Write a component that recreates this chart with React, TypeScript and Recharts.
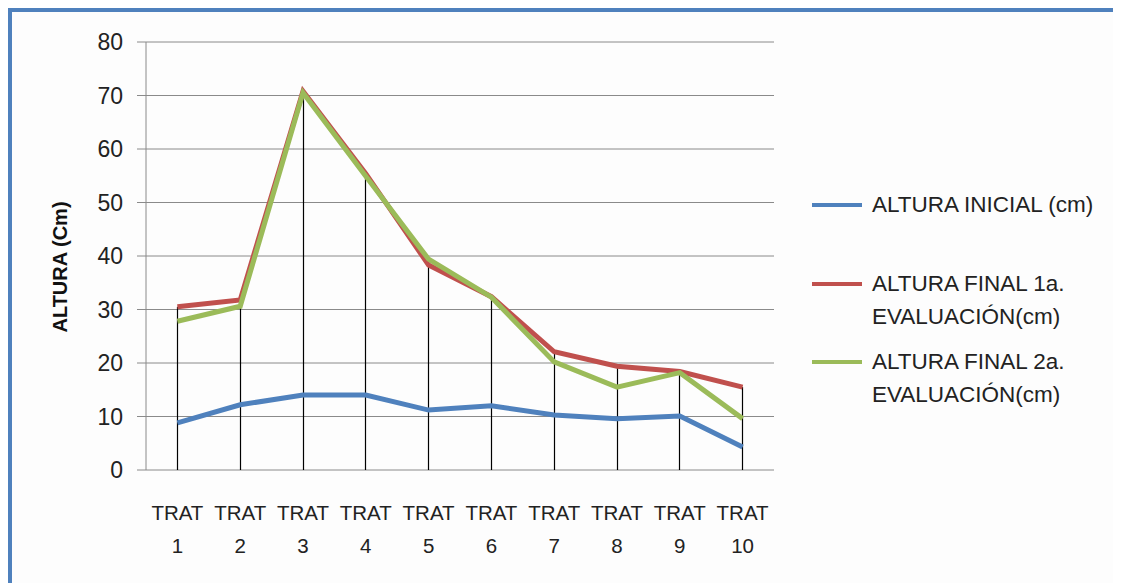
import React from "react";
import {
  ComposedChart,
  Line,
  Bar,
  XAxis,
  YAxis,
  CartesianGrid,
} from "recharts";

// Values
const categories = ["1", "2", "3", "4", "5", "6", "7", "8", "9", "10"];
const alturaInicial = [8.8, 12.2, 14.0, 14.0, 11.2, 12.0, 10.3, 9.6, 10.1, 4.3];
const alturaFinal1 = [30.5, 31.8, 70.8, 55.4, 38.3, 32.4, 22.1, 19.4, 18.4, 15.5];
const alturaFinal2 = [27.8, 30.6, 70.5, 54.9, 39.4, 32.3, 20.2, 15.5, 18.2, 9.6];
const yTicks = [0, 10, 20, 30, 40, 50, 60, 70, 80];

const FONT = "'Liberation Sans', Arial, sans-serif";

const series = [
  { key: "inicial", name: "ALTURA INICIAL (cm)", color: "#4f81bd" },
  { key: "final1", name: "ALTURA FINAL 1a.\nEVALUACIÓN(cm)", color: "#c0504d" },
  { key: "final2", name: "ALTURA FINAL 2a.\nEVALUACIÓN(cm)", color: "#9bbb59" },
];

const data = categories.map((c, i) => ({
  cat: c,
  inicial: alturaInicial[i],
  final1: alturaFinal1[i],
  final2: alturaFinal2[i],
  // drop line goes from the highest series value down to zero
  drop: Math.max(alturaInicial[i], alturaFinal1[i], alturaFinal2[i]),
}));

function XTick(props: any) {
  const { x, y, payload } = props;
  return (
    <text x={x} y={y} textAnchor="middle" fill="#222" fontSize={20.5} fontFamily={FONT}>
      <tspan x={x} dy={42}>TRAT</tspan>
      <tspan x={x} dy={33}>{payload.value}</tspan>
    </text>
  );
}

function YLabel(props: any) {
  const { viewBox } = props;
  const cx = 48;
  const cy = viewBox.y + viewBox.height / 2 + 11;
  return (
    <text
      x={cx}
      y={cy}
      transform={`rotate(-90 ${cx} ${cy})`}
      textAnchor="middle"
      dominantBaseline="central"
      fontSize={20}
      fontWeight={700}
      fontFamily={FONT}
      fill="#111"
    >
      ALTURA (Cm)
    </text>
  );
}

// thin vertical drop line drawn from the bar geometry
function DropLine(props: any) {
  const { x, y, width, height } = props;
  const cx = Math.round(x + width / 2) + 0.5;
  return (
    <line x1={cx} x2={cx} y1={y} y2={y + height} stroke="#000" strokeWidth={1.2} />
  );
}

function LegendBox() {
  return (
    <div
      style={{
        position: "absolute",
        left: 800,
        top: 176,
        fontFamily: FONT,
        fontSize: 22.5,
        color: "#222",
      }}
    >
      {series.map((s, i) => (
        <div
          key={s.key}
          style={{
            display: "flex",
            alignItems: "flex-start",
            marginBottom: i === 0 ? 46 : 12,
          }}
        >
          <div
            style={{
              width: 50,
              height: 4,
              background: s.color,
              marginTop: 15,
              marginRight: 10,
              flexShrink: 0,
            }}
          />
          <div style={{ whiteSpace: "pre", lineHeight: "33px" }}>{s.name}</div>
        </div>
      ))}
    </div>
  );
}

export default function App() {
  return (
    <div
      style={{
        position: "relative",
        width: 1113,
        height: 580,
        borderTop: "4px solid #4f81bd",
        borderLeft: "4px solid #4f81bd",
        background: "#fdfdfd",
        boxSizing: "border-box",
        overflow: "hidden",
      }}
    >
      <ComposedChart
        width={1105}
        height={572}
        data={data}
        margin={{ top: 30, right: 343, bottom: 14, left: 0 }}
      >
        <CartesianGrid vertical={false} stroke="#8a8a8a" strokeWidth={1} />
        <XAxis
          dataKey="cat"
          tick={<XTick />}
          tickLine={false}
          axisLine={false}
          height={100}
          interval={0}
        />
        <YAxis
          domain={[0, 80]}
          ticks={yTicks}
          width={134}
          tickSize={9}
          tickMargin={14}
          tickLine={{ stroke: "#8a8a8a" }}
          axisLine={{ stroke: "#8a8a8a" }}
          tick={{ fill: "#222", fontSize: 23, fontFamily: FONT }}
          label={<YLabel />}
        />
        <Bar
          dataKey="drop"
          barSize={2}
          fill="#000"
          shape={<DropLine />}
          isAnimationActive={false}
          legendType="none"
        />
        {series.map((s) => (
          <Line
            key={s.key}
            type="linear"
            dataKey={s.key}
            name={s.name}
            stroke={s.color}
            strokeWidth={5}
            dot={false}
            activeDot={false}
            isAnimationActive={false}
          />
        ))}
      </ComposedChart>
      <LegendBox />
    </div>
  );
}
